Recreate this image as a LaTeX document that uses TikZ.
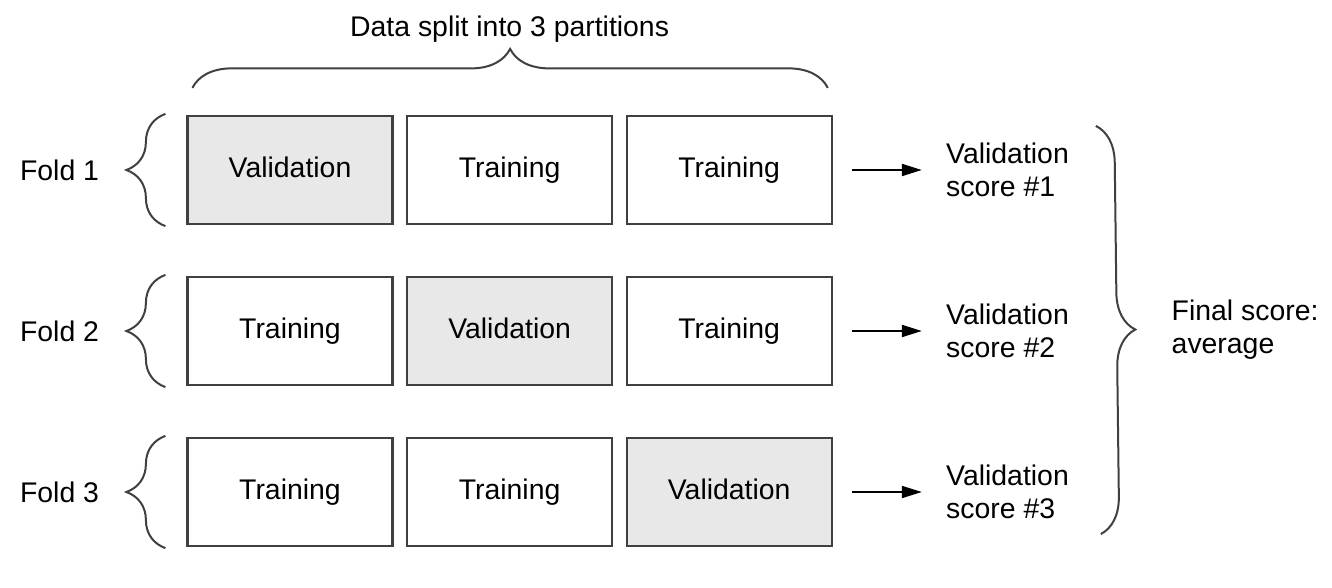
\documentclass[tikz,border=0pt]{standalone}
\usepackage{fontspec}
\setmainfont{Liberation Sans}
\usepackage{tikz}
\usetikzlibrary{positioning, arrows.meta, decorations.pathreplacing, calc}
\definecolor{valfill}{gray}{0.91}
\definecolor{linegray}{gray}{0.25}
\newcommand{\Txt}{\fontsize{14.2}{16.5}\selectfont}
\tikzset{
    part/.style={draw=linegray, line width=1.1pt, minimum width=102.5pt, minimum height=54pt, inner sep=0pt, text height=10.5pt, text depth=3pt, font=\Txt},
    trainbox/.style={part},
    validbox/.style={part, fill=valfill},
    label text/.style={inner sep=0pt, align=left, font=\Txt},
    curly/.style={draw=linegray, line width=1pt, decorate, decoration={brace, amplitude=#1}},
    arr/.style={-{Triangle[length=10pt, width=6pt]}, draw=black, line width=1pt},
}

\begin{document}
\begin{tikzpicture}
    \tikzset{node distance=25.4pt and 6.2pt}
    \useasboundingbox (0,0) rectangle (666pt,-294pt);

    % the three folds
    \node[validbox] (b11) at (145pt,-85pt) {Validation};
    \node[trainbox, right=of b11] (b12) {Training};
    \node[trainbox, right=of b12] (b13) {Training};

    \node[trainbox, below=of b11] (b21) {Training};
    \node[validbox, right=of b21] (b22) {Validation};
    \node[trainbox, right=of b22] (b23) {Training};

    \node[trainbox, below=of b21] (b31) {Training};
    \node[trainbox, right=of b31] (b32) {Training};
    \node[validbox, right=of b32] (b33) {Validation};

    % partitions
    \draw[curly=19.5pt] ($(b11.north west)+(3pt,13.5pt)$) -- ($(b13.north east)+(-2.5pt,13.5pt)$);
    \node[label text, above=36pt of b12] (title) {Data split into 3 partitions};

    \foreach \r in {1,2,3} {
        \draw[curly=19.5pt] ($(b\r1.south west)+(-10.5pt,-0.5pt)$) -- ($(b\r1.north west)+(-10.5pt,0.5pt)$);
        \node[label text, left=43.5pt of b\r1] (f\r) {Fold \r};
        \node[label text, right=56.5pt of b\r3] (s\r) {Validation\\score \#\r};
        \draw[arr, shorten <=9.5pt, shorten >=12pt] (b\r3.east) -- (b\r3.east -| s\r.west);
    }

    % final score
    \coordinate (top) at ($(s1.west |- b13.north)+(75pt,-5.5pt)$);
    \coordinate (bot) at ($(s3.west |- b33.south)+(77.5pt,6.5pt)$);
    \draw[curly=18.5pt] (top) -- (bot);
    \coordinate (tip) at ($(top)!0.5!(bot)+(18.5pt,0)$);
    \node[label text, right=18pt of tip] (fin) {Final score:\\average};
\end{tikzpicture}
\end{document}
